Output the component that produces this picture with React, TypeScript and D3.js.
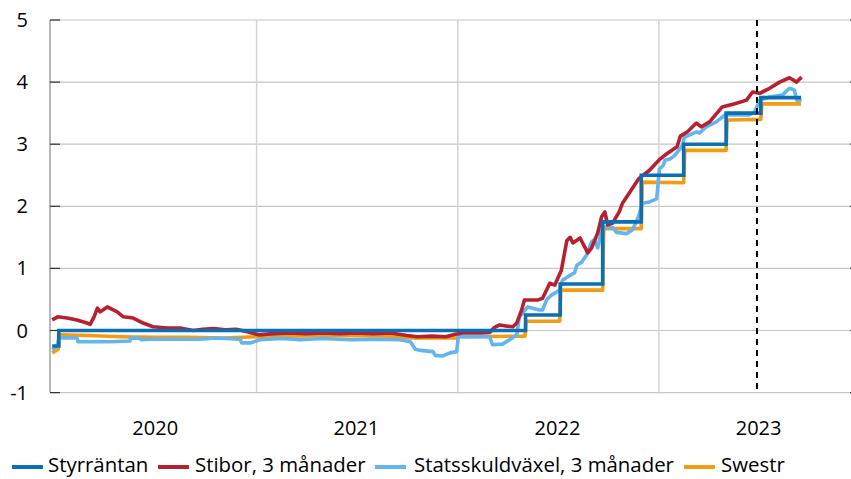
import React from "react";
import * as d3 from "d3";

// ---------- data ----------
const yearLabels = ["2020", "2021", "2022", "2023"];
const yTicks = [-1, 0, 1, 2, 3, 4, 5];
const markerDate = "2023-06-28";

const seriesNames = ["Styrräntan", "Stibor, 3 månader", "Statsskuldväxel, 3 månader", "Swestr"];

const styrrantan: [string, number][] = [
  ["2019-12-27", -0.25], ["2020-01-08", 0], ["2022-05-04", 0.25], ["2022-07-06", 0.75],
  ["2022-09-21", 1.75], ["2022-11-30", 2.5], ["2023-02-15", 3.0], ["2023-05-03", 3.5],
  ["2023-07-05", 3.75], ["2023-09-16", 3.75],
];

const stibor: [string, number][] = [
  ["2019-12-27", 0.17], ["2020-01-06", 0.22], ["2020-01-23", 0.2], ["2020-02-10", 0.17],
  ["2020-02-28", 0.12], ["2020-03-05", 0.1], ["2020-03-12", 0.22], ["2020-03-18", 0.36],
  ["2020-03-23", 0.3], ["2020-04-05", 0.38], ["2020-04-14", 0.34], ["2020-04-23", 0.3],
  ["2020-05-04", 0.22], ["2020-05-22", 0.2], ["2020-06-09", 0.12], ["2020-06-27", 0.06],
  ["2020-07-23", 0.04], ["2020-08-15", 0.04], ["2020-09-08", 0.0], ["2020-09-25", 0.02],
  ["2020-10-15", 0.03], ["2020-11-05", 0.01], ["2020-11-25", 0.02], ["2020-12-15", -0.02],
  ["2021-01-05", -0.07], ["2021-02-01", -0.05], ["2021-03-01", -0.04], ["2021-04-01", -0.05],
  ["2021-05-01", -0.04], ["2021-06-01", -0.05], ["2021-07-01", -0.04], ["2021-08-01", -0.05],
  ["2021-09-01", -0.04], ["2021-10-01", -0.08], ["2021-10-20", -0.1], ["2021-11-15", -0.09],
  ["2021-12-10", -0.1], ["2021-12-28", -0.06], ["2022-01-10", -0.04], ["2022-02-10", -0.04],
  ["2022-02-28", -0.03], ["2022-03-09", 0.05], ["2022-03-18", 0.09], ["2022-04-01", 0.07],
  ["2022-04-11", 0.06], ["2022-04-18", 0.12], ["2022-04-27", 0.33], ["2022-05-02", 0.49],
  ["2022-05-26", 0.49], ["2022-06-04", 0.52], ["2022-06-17", 0.76], ["2022-06-26", 0.73],
  ["2022-07-08", 0.97], ["2022-07-18", 1.45], ["2022-07-24", 1.5], ["2022-07-29", 1.41],
  ["2022-08-11", 1.49], ["2022-08-25", 1.25], ["2022-09-01", 1.33], ["2022-09-12", 1.57],
  ["2022-09-19", 1.83], ["2022-09-25", 1.91], ["2022-09-30", 1.7], ["2022-10-09", 1.73],
  ["2022-10-21", 1.91], ["2022-10-27", 2.05], ["2022-11-14", 2.29], ["2022-11-26", 2.45],
  ["2022-12-15", 2.58], ["2023-01-03", 2.76], ["2023-01-16", 2.85], ["2023-02-03", 2.96],
  ["2023-02-09", 3.13], ["2023-02-22", 3.2], ["2023-03-10", 3.34], ["2023-03-19", 3.28],
  ["2023-04-03", 3.36], ["2023-04-26", 3.6], ["2023-05-22", 3.66], ["2023-06-09", 3.71],
  ["2023-06-20", 3.84], ["2023-07-03", 3.82], ["2023-07-21", 3.9], ["2023-08-08", 4.0],
  ["2023-08-26", 4.07], ["2023-09-08", 4.0], ["2023-09-17", 4.08],
];

const statsskuldvaxel: [string, number][] = [
  ["2019-12-27", -0.31], ["2020-01-05", -0.25], ["2020-01-08", -0.12], ["2020-02-10", -0.12],
  ["2020-02-12", -0.18], ["2020-04-10", -0.18], ["2020-05-16", -0.17], ["2020-05-18", -0.12],
  ["2020-06-04", -0.13], ["2020-06-06", -0.15], ["2020-06-22", -0.14], ["2020-09-20", -0.14],
  ["2020-10-20", -0.12], ["2020-12-02", -0.14], ["2020-12-05", -0.2], ["2020-12-20", -0.2],
  ["2021-01-07", -0.15], ["2021-02-15", -0.13], ["2021-03-21", -0.15], ["2021-05-01", -0.13],
  ["2021-06-20", -0.15], ["2021-08-01", -0.14], ["2021-09-18", -0.15], ["2021-10-07", -0.18],
  ["2021-10-16", -0.3], ["2021-10-25", -0.32], ["2021-11-17", -0.34], ["2021-11-21", -0.4],
  ["2021-12-05", -0.41], ["2021-12-18", -0.36], ["2021-12-30", -0.34], ["2022-01-02", -0.1],
  ["2022-02-28", -0.1], ["2022-03-05", -0.23], ["2022-03-23", -0.22], ["2022-04-05", -0.15],
  ["2022-04-18", -0.07], ["2022-04-23", 0.22], ["2022-05-08", 0.38], ["2022-05-29", 0.33],
  ["2022-06-04", 0.33], ["2022-06-11", 0.49], ["2022-06-20", 0.57], ["2022-07-05", 0.65],
  ["2022-07-10", 0.81], ["2022-07-19", 0.86], ["2022-08-01", 0.93], ["2022-08-05", 1.05],
  ["2022-08-14", 1.1], ["2022-08-23", 1.22], ["2022-09-01", 1.43], ["2022-09-06", 1.46],
  ["2022-09-12", 1.33], ["2022-09-21", 1.67], ["2022-10-09", 1.66], ["2022-10-16", 1.58],
  ["2022-11-03", 1.56], ["2022-11-14", 1.62], ["2022-11-25", 1.83], ["2022-12-02", 2.05],
  ["2022-12-15", 2.07], ["2022-12-28", 2.12], ["2023-01-02", 2.6], ["2023-01-09", 2.66],
  ["2023-01-12", 2.74], ["2023-01-21", 2.76], ["2023-01-30", 2.82], ["2023-02-13", 2.98],
  ["2023-02-16", 3.11], ["2023-03-10", 3.2], ["2023-03-16", 3.18], ["2023-03-28", 3.28],
  ["2023-04-15", 3.36], ["2023-05-01", 3.47], ["2023-06-14", 3.47], ["2023-06-24", 3.52],
  ["2023-07-03", 3.71], ["2023-07-21", 3.76], ["2023-08-13", 3.79], ["2023-08-26", 3.9],
  ["2023-09-04", 3.87], ["2023-09-08", 3.71], ["2023-09-17", 3.71],
];

const swestr: [string, number][] = [
  ["2019-12-27", -0.36], ["2020-01-07", -0.3], ["2020-01-09", -0.07], ["2020-03-01", -0.08],
  ["2020-05-01", -0.1], ["2020-07-01", -0.11], ["2020-09-01", -0.11], ["2020-11-01", -0.12],
  ["2021-01-01", -0.1], ["2021-03-01", -0.09], ["2021-06-01", -0.08], ["2021-09-01", -0.09],
  ["2021-10-10", -0.12], ["2021-12-31", -0.12], ["2022-01-03", -0.1], ["2022-05-03", -0.09],
  ["2022-05-05", 0.15], ["2022-07-05", 0.15], ["2022-07-07", 0.65], ["2022-09-21", 0.65],
  ["2022-09-23", 1.64], ["2022-11-30", 1.64], ["2022-12-02", 2.39], ["2023-02-15", 2.38],
  ["2023-02-17", 2.9], ["2023-05-03", 2.9], ["2023-05-05", 3.39], ["2023-07-05", 3.4],
  ["2023-07-07", 3.65], ["2023-09-16", 3.65],
];

// ---------- styling ----------
const COLORS = ["#0a6fb4", "#b7202e", "#62b5ef", "#f39c12"];
const FONT = "'Open Sans', sans-serif";
const W = 851;
const H = 479;

const parse = d3.timeParse("%Y-%m-%d");

export default function App() {
  const x = d3
    .scaleTime()
    .domain([new Date(2019, 11, 23), new Date(2024, 0, 1)])
    .range([50, 860]);
  const y = d3.scaleLinear().domain([-1, 5]).range([392.6, 20]);

  const toPts = (arr: [string, number][]) => arr.map(([d, v]) => ({ d: parse(d) as Date, v }));
  const lineLin = d3
    .line<{ d: Date; v: number }>()
    .x((p) => x(p.d))
    .y((p) => y(p.v));
  const lineStep = d3
    .line<{ d: Date; v: number }>()
    .x((p) => x(p.d))
    .y((p) => y(p.v))
    .curve(d3.curveStepAfter);

  const years = [2020, 2021, 2022, 2023];
  const yearBounds = [2021, 2022, 2023, 2024].map((yr) => x(new Date(yr, 0, 1)));
  const yearMids = years.map((yr) => x(new Date(yr, 6, 1)));

  const legendLineX = [12, 158, 375, 684];
  const legendTextX = [48, 195, 414, 721];

  return (
    <svg
      width={W}
      height={H}
      style={{ position: "absolute", left: 0, top: 0, background: "#fff" }}
      fontFamily={FONT}
    >
      {/* horizontal gridlines */}
      {yTicks.map((t) => (
        <line key={"h" + t} x1={50} x2={860} y1={y(t)} y2={y(t)} stroke="#c6c6c6" strokeWidth={1.2} />
      ))}
      {/* vertical gridlines at year boundaries */}
      {yearBounds.map((bx, i) => (
        <line key={"v" + i} x1={bx} x2={bx} y1={y(5)} y2={y(-1)} stroke="#d4d4d4" strokeWidth={1.5} />
      ))}
      {/* left axis */}
      <line x1={50} x2={50} y1={y(5)} y2={y(-1)} stroke="#888" strokeWidth={1.2} />
      {yTicks.map((t) => (
        <line key={"lt" + t} x1={50} x2={60} y1={y(t)} y2={y(t)} stroke="#333" strokeWidth={1.2} />
      ))}
      {yTicks.map((t) => (
        <line key={"rt" + t} x1={850} x2={860} y1={y(t)} y2={y(t)} stroke="#333" strokeWidth={1.2} />
      ))}
      {yTicks.map((t) => (
        <text key={"yl" + t} x={28} y={y(t) + 7} textAnchor="end" fontSize={20} fill="#000">
          {t}
        </text>
      ))}
      {/* year labels */}
      {yearLabels.map((lab, i) => (
        <text key={lab} x={yearMids[i]} y={435} textAnchor="middle" fontSize={20} fill="#000">
          {lab}
        </text>
      ))}

      {/* series */}
      <path d={lineLin(toPts(swestr)) || ""} fill="none" stroke={COLORS[3]} strokeWidth={3.6} strokeLinejoin="round" />
      <path d={lineLin(toPts(statsskuldvaxel)) || ""} fill="none" stroke={COLORS[2]} strokeWidth={3.6} strokeLinejoin="round" />
      <path d={lineLin(toPts(stibor)) || ""} fill="none" stroke={COLORS[1]} strokeWidth={3.6} strokeLinejoin="round" />
      <path d={lineStep(toPts(styrrantan)) || ""} fill="none" stroke={COLORS[0]} strokeWidth={3.6} />

      {/* dashed marker */}
      <line
        x1={x(parse(markerDate) as Date)}
        x2={x(parse(markerDate) as Date)}
        y1={y(5)}
        y2={y(-1)}
        stroke="#000"
        strokeWidth={2}
        strokeDasharray="6,5"
      />

      {/* legend */}
      {seriesNames.map((name, i) => (
        <g key={name}>
          <line x1={legendLineX[i]} x2={legendLineX[i] + 31} y1={467} y2={467} stroke={COLORS[i]} strokeWidth={4} />
          <text x={legendTextX[i]} y={472} fontSize={20.4} fill="#000">
            {name}
          </text>
        </g>
      ))}
    </svg>
  );
}
